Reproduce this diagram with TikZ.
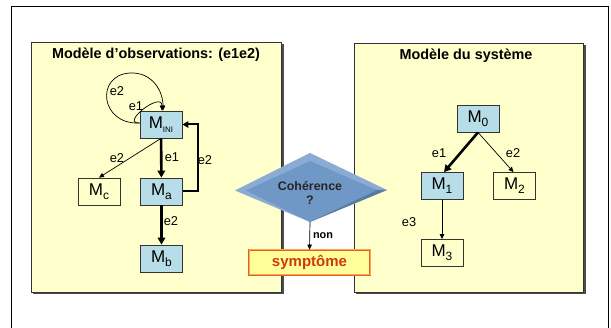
\documentclass[tikz,border=0pt]{standalone}
\usepackage{fontspec}
\setmainfont{Liberation Sans}
\usetikzlibrary{arrows.meta}
\definecolor{panelfill}{HTML}{FFFFCC}
\definecolor{statefill}{HTML}{B7DEE8}
\definecolor{diamfill}{HTML}{7098C7}
\definecolor{diambevel}{HTML}{8AABD3}
\definecolor{symfill}{HTML}{FFFF99}
\definecolor{symline}{HTML}{E0602A}
\definecolor{symtext}{HTML}{D03A10}
\newcommand{\stlab}[2]{\fontsize{17}{17}\selectfont M\raisebox{-4pt}{\fontsize{#2}{#2}\selectfont #1}}
\tikzset{
  panel/.style={draw=black!80, line width=0.9pt, fill=panelfill},
  paneltitle/.style={font=\fontsize{14.4}{17}\selectfont\bfseries},
  state/.style={draw=black!80, line width=0.8pt, minimum width=42pt, minimum height=27pt, inner sep=0pt},
  active/.style={state, fill=statefill},
  heavy/.style={line width=2.6pt, -{Triangle[length=7pt,width=7.5pt]}},
  light/.style={line width=0.7pt, -{Triangle[length=5pt,width=4.5pt]}},
  evlab/.style={font=\fontsize{12.8}{14}\selectfont, inner sep=0pt},
}
\begin{document}
\begin{tikzpicture}[x=1pt,y=-1pt]
\useasboundingbox (0,0) rectangle (611,328);
% outer frame
\draw[line width=1pt] (11,328.5) -- (11,7) -- (608,7) -- (608,328.5);

% panels with shadow
\fill[black!70] (33,44) rectangle (283.5,294);
\draw[panel] (31,42) rectangle (281,292);
\fill[black!70] (356,45) rectangle (585.5,294);
\draw[panel] (354,43) rectangle (583,292);

\node[paneltitle] (t1) at (156,55) {Modèle d’observations: (e1e2)};
\node[paneltitle] (t2) at (466,56) {Modèle du système};

% observation model
\node[active] (ini) at (161,124.5) {\stlab{INI}{8}};
\node[active] (ma) at (161.5,191.5) {\stlab{a}{12}};
\node[active] (mb) at (161.5,258.5) {\stlab{b}{12}};
\node[state] (mc) at (99,191.5) {\stlab{c}{12}};

\draw[light] ([yshift=1.5pt]ini.west) .. controls +(-20,1) and +(0,-20) .. ([xshift=1pt]ini.north);
\draw[light] ([yshift=1.5pt]ini.west) .. controls (100,125) and (95,75) .. (130,73)
  .. controls (152,72) and ([xshift=2pt,yshift=20pt]ini.north) .. ([xshift=2pt]ini.north);
\node[evlab] (l1) at (136,106) {e1};
\node[evlab] (l2) at (117,91) {e2};

\draw[heavy] (ini) -- (ma);
\node[evlab] (l3) at (172,157) {e1};
\draw[heavy] (ma) -- (mb);
\node[evlab] (l4) at (171,221) {e2};
\draw[light] (ini.south) -- (mc.north);
\node[evlab] (l5) at (117,158) {e2};
\coordinate (back) at (198,124.5);
\draw[line width=2pt, -{Triangle[length=6pt,width=6.5pt]}] (ma.east) -| (back) -- (ini.east);
\node[evlab] (l6) at (205,160) {e2};

% system model
\node[active] (m0) at (478,118.5) {\stlab{0}{12}};
\node[active] (m1) at (442,186) {\stlab{1}{12}};
\node[state] (m2) at (514.5,186) {\stlab{2}{12}};
\node[state] (m3) at (442,253) {\stlab{3}{12}};
\draw[heavy] (m0.south) -- ([xshift=2pt]m1.north);
\draw[light] (m0.south) -- ([xshift=-1pt]m2.north);
\draw[light] (m1) -- (m3);
\node[evlab] (r1) at (439,153) {e1};
\node[evlab] (r2) at (513,153) {e2};
\node[evlab] (r3) at (409,222) {e3};

% consistency test
\fill[diambevel] (235,190.5) -- (310,153) -- (387,190) -- (310,222) -- cycle;
\fill[diamfill] (246,190.5) -- (310,161) -- (377,190) -- (310,222) -- cycle;
\fill[diamfill!80!black] (377,190) -- (387,190) -- (310,222) -- cycle;
\node[font=\fontsize{12.4}{14}\selectfont\bfseries, text=black!85, align=center] (coh) at (310,193) {Cohérence\\?};
\coordinate (cohbot) at (310,222);
\node[draw=symline, line width=0.8pt, double=orange!70, double distance=1pt, fill=symfill,
      minimum width=121pt, minimum height=25pt, inner sep=0pt,
      font=\fontsize{15}{17}\selectfont\bfseries, text=symtext] (sym) at (309.5,262.5) {symptôme};
\draw[light] (cohbot) -- (sym.north);
\node[font=\fontsize{10.9}{12}\selectfont\bfseries] (non) at (323,236) {non};
\end{tikzpicture}
\end{document}
